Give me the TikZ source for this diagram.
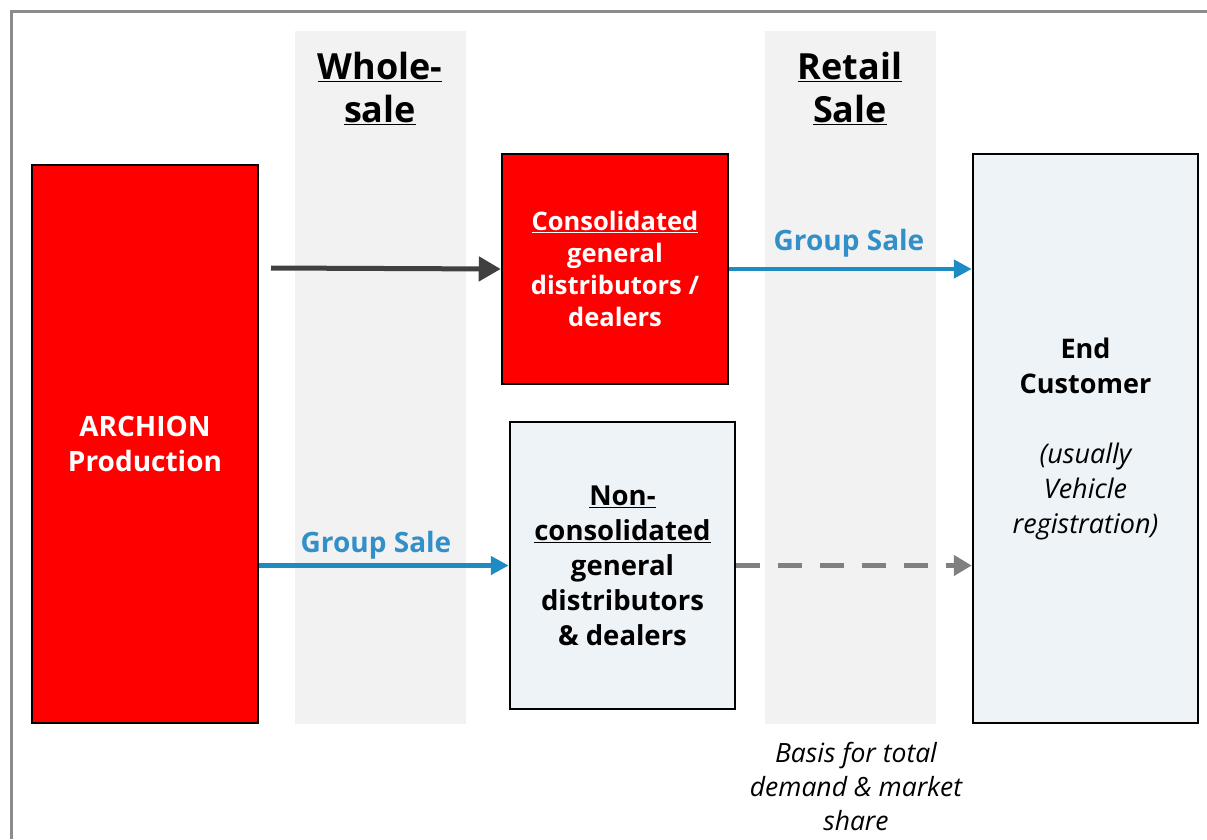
\documentclass[tikz,border=0pt]{standalone}
\usepackage{fontspec}
\setmainfont{Open Sans}
\usepackage{tikz}
\usetikzlibrary{arrows.meta,positioning}
\definecolor{archred}{HTML}{FF0000}
\definecolor{paleblue}{HTML}{EEF3F7}
\definecolor{bandgray}{HTML}{F2F2F2}
\definecolor{salesblue}{HTML}{1E8BC3}
\definecolor{labelblue}{HTML}{338FC8}
\definecolor{darkline}{HTML}{404040}
\definecolor{framegray}{HTML}{8C8C8C}

\begin{document}
\begin{tikzpicture}[
x=1pt,y=-1pt,
box/.style={draw=black,line width=2.5pt,inner sep=0pt,align=center,font=\bfseries\fontsize{27.5pt}{35pt}\selectfont},
redbox/.style={box,fill=archred,text=white},
palebox/.style={box,fill=paleblue,text=black},
heading/.style={align=center,font=\bfseries\fontsize{36pt}{43pt}\selectfont},
salelabel/.style={text=labelblue,font=\bfseries\fontsize{28pt}{32pt}\selectfont},
salearrow/.style={-{Triangle[length=18pt,width=18pt]},line width=4.5pt,draw=salesblue},
mainarrow/.style={-{Triangle[length=22pt,width=24pt]},line width=5pt,draw=darkline},
fwdarrow/.style={-{Triangle[length=18pt,width=20pt]},line width=5pt,draw=gray,dash pattern=on 24pt off 18pt}]
    % Frame and background
    \useasboundingbox (0,0) rectangle (1207,839);
    \draw[framegray,line width=3pt] (11,839) -- (11,11) -- (1207,11);
    \fill[bandgray] (295,31) rectangle (466,724);
    \fill[bandgray] (765,31) rectangle (936,724);

    % Column headings
    \node[heading] (wholesale) at (380,88) {\underline{Whole-}\\\underline{sale}};
    \node[heading] (retail) at (850,88) {\underline{Retail}\\\underline{Sale}};

    % Boxes
    \node[redbox,minimum width=226pt,minimum height=558pt,font=\bfseries\fontsize{28pt}{35pt}\selectfont] (archion) at (145,444)
        {ARCHION\\Production};
    \node[redbox,minimum width=226pt,minimum height=230pt,font=\bfseries\fontsize{25.5pt}{32pt}\selectfont] (cons) at (615,269)
        {\underline{Consolidated}\\general\\distributors /\\dealers};
    \node[palebox,minimum width=225pt,minimum height=287pt] (noncons) at (622.5,565.5)
        {\underline{Non-}\\\underline{consolidated}\\general\\distributors\\\& dealers};
    \node[palebox,minimum width=225pt,minimum height=569pt,font=\bfseries\fontsize{27pt}{35pt}\selectfont] (endcust) at (1085.5,438.5)
        {End\\Customer\\[35pt]\mdseries\itshape(usually\\\mdseries\itshape Vehicle\\\mdseries\itshape registration)};

    % Flows
    \coordinate (wsstart) at (271,268);
    \draw[mainarrow] (wsstart) -- (cons.west);
    \draw[salearrow] (cons.east) -- (cons.east -| endcust.west);
    \draw[salearrow] (archion.east |- noncons.west) -- (noncons.west);
    \draw[fwdarrow] (noncons.east) -- (noncons.east -| endcust.west);

    % Labels
    \node[salelabel] (grouptop) at (849,243) {Group Sale};
    \node[salelabel] (groupbot) at (376,545) {Group Sale};
    \node[align=center,font=\itshape\fontsize{26.5pt}{34pt}\selectfont] (basis) at (856,786)
        {Basis for total\\demand \& market\\share};
\end{tikzpicture}
\end{document}
